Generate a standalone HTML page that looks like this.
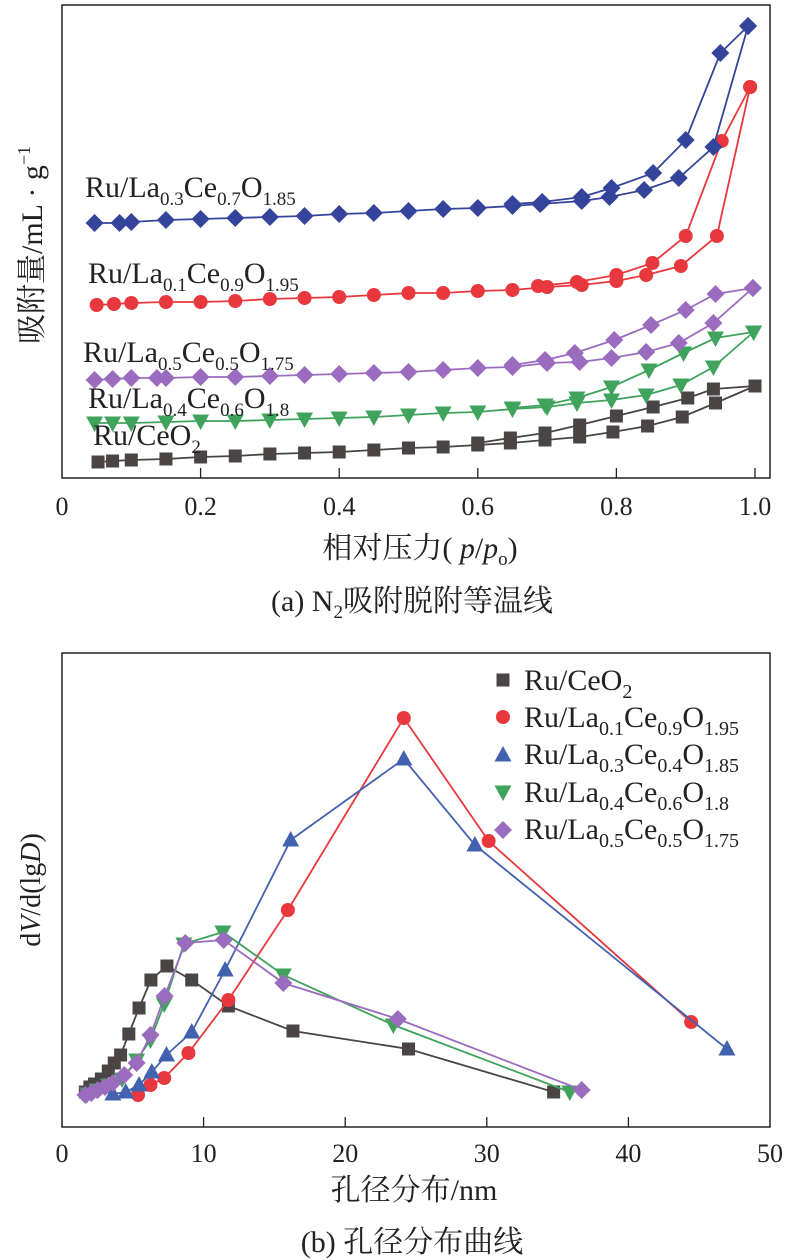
<!DOCTYPE html>
<html><head><meta charset="utf-8"><style>
html,body{margin:0;padding:0;background:#fff}
svg{display:block;font-family:"Liberation Serif","Noto Serif CJK SC","Noto Sans CJK SC",serif}
</style></head><body>
<svg id="s" width="788" height="1260" viewBox="0 0 788 1260">
<rect x="62" y="5" width="708" height="473" fill="none" stroke="#222" stroke-width="1.5"/>
<rect x="62" y="653" width="708" height="474" fill="none" stroke="#222" stroke-width="1.5"/>
<g id="ga"></g>
<g id="gb"></g>
<g font-size="30" fill="#222">
<text transform="translate(42,245) rotate(-90)" text-anchor="middle">吸附量/mL · g<tspan dy="-12" font-size="18">−1</tspan></text>
<text x="420" y="558" text-anchor="middle">相对压力( <tspan font-style="italic">p</tspan>/<tspan font-style="italic">p</tspan><tspan dy="7" font-size="19">o</tspan><tspan dy="-7">)</tspan></text>
<text x="412" y="611" text-anchor="middle">(a) N<tspan dy="7" font-size="19">2</tspan><tspan dy="-7">吸附脱附等温线</tspan></text>
<text transform="translate(40,890) rotate(-90)" text-anchor="middle" font-size="28">d<tspan font-style="italic">V</tspan>/d(lg<tspan font-style="italic">D</tspan>)</text>
<text x="414" y="1200" text-anchor="middle">孔径分布/nm</text>
<text x="412" y="1252" text-anchor="middle">(b) 孔径分布曲线</text>
</g>
<g font-size="30" fill="#222">
<text x="85" y="197">Ru/La<tspan dy="8" font-size="19">0.3</tspan><tspan dy="-8">Ce</tspan><tspan dy="8" font-size="19">0.7</tspan><tspan dy="-8">O</tspan><tspan dy="8" font-size="19">1.85</tspan></text>
<text x="88" y="283">Ru/La<tspan dy="8" font-size="19">0.1</tspan><tspan dy="-8">Ce</tspan><tspan dy="8" font-size="19">0.9</tspan><tspan dy="-8">O</tspan><tspan dy="8" font-size="19">1.95</tspan></text>
<text x="83" y="362">Ru/La<tspan dy="8" font-size="19">0.5</tspan><tspan dy="-8">Ce</tspan><tspan dy="8" font-size="19">0.5</tspan><tspan dy="-8">O</tspan><tspan dy="8" font-size="19">1.75</tspan></text>
<text x="88" y="408">Ru/La<tspan dy="8" font-size="19">0.4</tspan><tspan dy="-8">Ce</tspan><tspan dy="8" font-size="19">0.6</tspan><tspan dy="-8">O</tspan><tspan dy="8" font-size="19">1.8</tspan></text>
<text x="93" y="445">Ru/CeO<tspan dy="8" font-size="19">2</tspan></text>
</g>
<g id="leg" font-size="30" fill="#222">
<text x="524" y="690">Ru/CeO<tspan dy="8" font-size="20">2</tspan></text>
<text x="524" y="727">Ru/La<tspan dy="8" font-size="20">0.1</tspan><tspan dy="-8">Ce</tspan><tspan dy="8" font-size="20">0.9</tspan><tspan dy="-8">O</tspan><tspan dy="8" font-size="20">1.95</tspan></text>
<text x="524" y="764">Ru/La<tspan dy="8" font-size="20">0.3</tspan><tspan dy="-8">Ce</tspan><tspan dy="8" font-size="20">0.4</tspan><tspan dy="-8">O</tspan><tspan dy="8" font-size="20">1.85</tspan></text>
<text x="524" y="802">Ru/La<tspan dy="8" font-size="20">0.4</tspan><tspan dy="-8">Ce</tspan><tspan dy="8" font-size="20">0.6</tspan><tspan dy="-8">O</tspan><tspan dy="8" font-size="20">1.8</tspan></text>
<text x="524" y="839">Ru/La<tspan dy="8" font-size="20">0.5</tspan><tspan dy="-8">Ce</tspan><tspan dy="8" font-size="20">0.5</tspan><tspan dy="-8">O</tspan><tspan dy="8" font-size="20">1.75</tspan></text>
</g>
</svg>
<script>
// ---- chart (a) data: relative pressure and adsorbed amount (arbitrary units) ----
const aTicks = [0, 0.2, 0.4, 0.6, 0.8, 1.0];
const aTickLabels = ["0", "0.2", "0.4", "0.6", "0.8", "1.0"];
const blueAdsP = [.047,.083,.1,.15,.2,.25,.3,.35,.4,.45,.5,.55,.6,.65,.69,.75,.79,.84,.89,.94,.99];
const blueAdsV = [255,255,256,258,259,260,261,262,264,265,267,269,270,272,274,277,281,288,300,331,452];
const blueDesP = [.99,.95,.9,.853,.793,.75,.693,.65];
const blueDesV = [452,425,338,305,290,281,276,274];
const redAdsP = [.05,.075,.1,.15,.2,.25,.3,.35,.4,.45,.5,.55,.6,.65,.7,.75,.8,.843,.893,.945,.993];
const redAdsV = [173,174,175,176,176,177,179,180,181,183,185,185,187,188,191,193,197,203,212,242,391];
const redDesP = [.993,.952,.9,.852,.8,.743,.687];
const redDesV = [391,337,242,215,203,196,192];
const purpAdsP = [.047,.073,.1,.137,.15,.2,.25,.3,.35,.4,.45,.5,.55,.6,.65,.7,.747,.793,.843,.89,.94,.997];
const purpAdsV = [98,99,100,100,100,101,101,102,103,104,105,106,108,110,111,115,116,120,126,135,155,190];
const purpDesP = [.997,.943,.9,.85,.797,.74,.697,.65];
const purpDesV = [190,184,168,153,138,125,118,113];
const grnAdsP = [.047,.073,.1,.15,.2,.25,.3,.35,.4,.45,.5,.55,.6,.65,.7,.743,.793,.843,.893,.94,.998];
const grnAdsV = [55,55,55,56,57,57,58,59,60,61,63,65,66,69,71,75,78,83,93,111,146];
const grnDesP = [.998,.943,.897,.847,.793,.743,.697,.65];
const grnDesV = [146,140,125,108,91,80,73,70];
const blkAdsP = [.052,.073,.1,.15,.2,.25,.3,.35,.4,.45,.5,.55,.6,.647,.697,.747,.795,.845,.895,.943,1.0];
const blkAdsV = [16,17,18,19,21,22,24,25,26,28,30,31,33,35,38,41,46,52,61,75,92];
const blkDesP = [1.0,.94,.903,.853,.8,.747,.697,.647,.6];
const blkDesV = [92,89,80,71,62,53,45,40,35];

// ---- chart (b) data: pore diameter (nm) and dV/d(lgD) (arbitrary units) ----
const bTicks = [0, 10, 20, 30, 40, 50];
const bTickLabels = ["0", "10", "20", "30", "40", "50"];
const bBlkD = [1.65,1.97,2.3,2.78,3.27,3.69,4.14,4.72,5.44,6.28,7.41,9.16,11.75,16.31,24.47,34.72];
const bBlkV = [35,40,43,48,56,64,72,93,119,147,161,147,121,96,78,35];
const bRedD = [5.37,6.25,7.22,8.93,11.75,15.95,24.14,30.13,44.43];
const bRedV = [32,42,49,74,127,217,409,286,105];
const bBluD = [3.59,4.5,5.44,6.34,7.38,9.16,11.52,16.15,24.14,29.16,46.96];
const bBluV = [33,35,42,55,72,95,157,287,368,282,78];
const bGrnD = [1.81,2.46,3.27,4.24,5.27,6.25,7.22,8.61,11.36,15.63,23.4,35.86];
const bGrnV = [33,37,42,48,67,87,123,183,195,152,102,35];
const bPurD = [1.65,2.07,2.52,3.04,3.59,4.4,5.27,6.25,7.25,8.71,11.42,15.63,23.72,36.7];
const bPurV = [32,34,37,40,44,52,64,92,131,184,187,144,108,37];

const NS = "http://www.w3.org/2000/svg";
const xA = p => 62 + p * 693;
const yA = v => 478 - v;
const xB = d => 62 + d * 14.16;
const yB = v => 1127 - v;

function mk(tag, attrs, parent) {
  const e = document.createElementNS(NS, tag);
  for (const k in attrs) e.setAttribute(k, attrs[k]);
  parent.appendChild(e);
  return e;
}
function marker(shape, x, y, color, parent) {
  let e;
  if (shape === "sq") e = mk("rect", {x: x-6.5, y: y-6.5, width: 13, height: 13, fill: color}, parent);
  else if (shape === "ci") e = mk("circle", {cx: x, cy: y, r: 7, fill: color}, parent);
  else if (shape === "di") e = mk("polygon", {points: `${x},${y-9} ${x+9},${y} ${x},${y+9} ${x-9},${y}`, fill: color}, parent);
  else if (shape === "up") e = mk("polygon", {points: `${x},${y-9} ${x+8.5},${y+6.5} ${x-8.5},${y+6.5}`, fill: color}, parent);
  else e = mk("polygon", {points: `${x},${y+9} ${x+8.5},${y-6.5} ${x-8.5},${y-6.5}`, fill: color}, parent);
  return e;
}
function series(px, vy, sx, sy, color, shape, parent, name) {
  const g = mk("g", {}, parent);
  
  
  const pts = px.map((p, i) => sx(p).toFixed(1) + "," + sy(vy[i]).toFixed(1)).join(" ");
  const l = mk("polyline", {points: pts, fill: "none", stroke: color, "stroke-width": 1.8}, g);
  
  
  px.forEach((p, i) => {
    const m = marker(shape, sx(p), sy(vy[i]), color, g);
    
    
  });
}
const ga = document.getElementById("ga"), gb = document.getElementById("gb");
aTicks.forEach((t, i) => {
  if (t > 0) {
    const tk = mk("line", {x1: xA(t), x2: xA(t), y1: 478, y2: 468, stroke: "#222", "stroke-width": 1.3}, ga);
    
    
  }
  const tx = mk("text", {x: xA(t), y: 515, "text-anchor": "middle", "font-size": 26, fill: "#222"}, ga);
  tx.textContent = aTickLabels[i];
  
  
});
bTicks.forEach((t, i) => {
  if (t > 0 && t < 50) {
    const tk = mk("line", {x1: xB(t), x2: xB(t), y1: 1127, y2: 1117, stroke: "#222", "stroke-width": 1.3}, gb);
    
    
  }
  const tx = mk("text", {x: xB(t), y: 1162, "text-anchor": "middle", "font-size": 26, fill: "#222"}, gb);
  tx.textContent = bTickLabels[i];
  
  
});
const cBlk = "#4a4444", cRed = "#e8383d", cBlu = "#34449a", cGrn = "#3fa35c", cPur = "#9b6bbf", cBlu2 = "#4262b0";
series(blkAdsP, blkAdsV, xA, yA, cBlk, "sq", ga, "ceo2-adsorption");
series(blkDesP, blkDesV, xA, yA, cBlk, "sq", ga, "ceo2-desorption");
series(grnAdsP, grnAdsV, xA, yA, cGrn, "dn", ga, "la04-adsorption");
series(grnDesP, grnDesV, xA, yA, cGrn, "dn", ga, "la04-desorption");
series(purpAdsP, purpAdsV, xA, yA, cPur, "di", ga, "la05-adsorption");
series(purpDesP, purpDesV, xA, yA, cPur, "di", ga, "la05-desorption");
series(redAdsP, redAdsV, xA, yA, cRed, "ci", ga, "la01-adsorption");
series(redDesP, redDesV, xA, yA, cRed, "ci", ga, "la01-desorption");
series(blueAdsP, blueAdsV, xA, yA, cBlu, "di", ga, "la03-adsorption");
series(blueDesP, blueDesV, xA, yA, cBlu, "di", ga, "la03-desorption");

series(bBlkD, bBlkV, xB, yB, cBlk, "sq", gb, "pore-ceo2");
series(bRedD, bRedV, xB, yB, cRed, "ci", gb, "pore-la01");
series(bBluD, bBluV, xB, yB, cBlu2, "up", gb, "pore-la03");
series(bGrnD, bGrnV, xB, yB, cGrn, "dn", gb, "pore-la04");
series(bPurD, bPurV, xB, yB, cPur, "di", gb, "pore-la05");

const leg = document.getElementById("leg");
[["sq", cBlk, 680], ["ci", cRed, 717], ["up", cBlu2, 755], ["dn", cGrn, 792], ["di", cPur, 830]].forEach(r => {
  const m = marker(r[0], 503, r[2], r[1], leg);
  
  
});
</script>
</body></html>
